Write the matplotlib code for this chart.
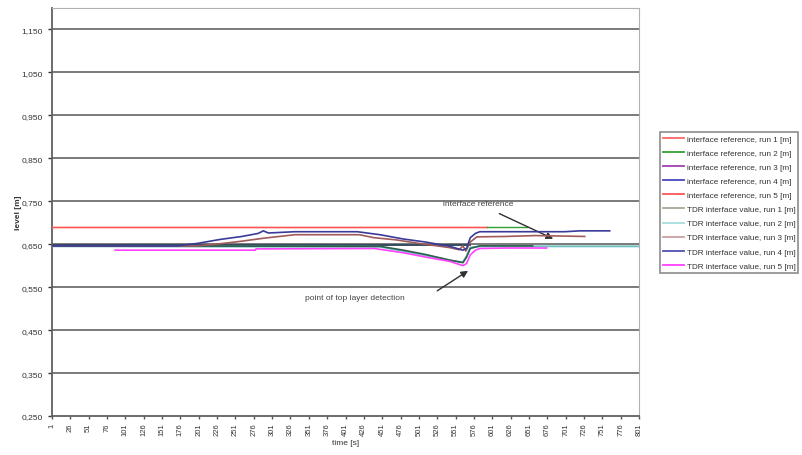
import matplotlib
matplotlib.use("Agg")
import matplotlib.pyplot as plt
from matplotlib.lines import Line2D
from matplotlib.ticker import FuncFormatter

plt.rcParams['font.family'] = ['Liberation Sans', 'DejaVu Sans']

# ---- data ----
# interface reference levels (flat lines)
ref1_t = [1, 594]
ref1_v = [0.690, 0.690]
ref2_t = [594, 648]
ref2_v = [0.690, 0.690]
ref3_t = [1, 571]
ref3_v = [0.647, 0.647]
ref4_t = [1, 571]
ref4_v = [0.647, 0.647]
ref5_t = [1, 594]
ref5_v = [0.690, 0.690]

# TDR measured interface values
tdr1_t = [1, 448, 480, 510, 543, 561, 566, 571, 584, 656]
tdr1_v = [0.646, 0.645, 0.636, 0.626, 0.613, 0.607, 0.620, 0.640, 0.646, 0.646]

tdr2_t = [1, 448, 480, 510, 543, 561, 566, 571, 584, 801]
tdr2_v = [0.645, 0.644, 0.634, 0.624, 0.612, 0.608, 0.622, 0.642, 0.645, 0.645]

tdr3_t = [1, 200, 230, 260, 290, 332, 420, 440, 470, 500, 543, 556, 561, 565,
          571, 580, 620, 660, 727]
tdr3_v = [0.646, 0.646, 0.651, 0.657, 0.664, 0.672, 0.672, 0.665, 0.660, 0.652,
          0.642, 0.637, 0.646, 0.634, 0.655, 0.667, 0.668, 0.670, 0.668]

tdr4_t = [1, 171, 200, 230, 260, 282, 289, 296, 332, 417, 448, 480, 510, 543,
          561, 566, 571, 578, 584, 700, 720, 761]
tdr4_v = [0.646, 0.646, 0.652, 0.661, 0.668, 0.675, 0.681, 0.676, 0.679, 0.679,
          0.672, 0.662, 0.655, 0.645, 0.636, 0.640, 0.665, 0.675, 0.679, 0.679,
          0.681, 0.681]

tdr5_t = [87, 278, 279, 440, 448, 480, 510, 543, 561, 566, 571, 578, 584, 620, 675]
tdr5_v = [0.636, 0.636, 0.639, 0.640, 0.638, 0.630, 0.620, 0.610, 0.600, 0.605,
          0.625, 0.636, 0.640, 0.641, 0.641]

labels = ['interface reference, run 1 [m]', 'interface reference, run 2 [m]',
          'interface reference, run 3 [m]', 'interface reference, run 4 [m]',
          'interface reference, run 5 [m]', 'TDR interface value, run 1 [m]',
          'TDR interface value, run 2 [m]', 'TDR interface value, run 3 [m]',
          'TDR interface value, run 4 [m]', 'TDR interface value, run 5 [m]']
legend_colors = ['#ff6666', '#33a033', '#a040b0', '#4848c0', '#ff5555',
                 '#a8a898', '#a8dcdc', '#c8a0a0', '#5050b0', '#ff40ff']

x_ticks = list(range(1, 802, 25))
y_ticks = [0.25, 0.35, 0.45, 0.55, 0.65, 0.75, 0.85, 0.95, 1.05, 1.15]

fig = plt.figure(figsize=(8.02, 4.56), dpi=100)
ax = fig.add_axes([0.0648, 0.0855, 0.7320, 0.8950])

# grid first
for yv in y_ticks[1:]:
    ax.axhline(yv, color='#707070', lw=1.3, zorder=1)

ax.plot(ref3_t, ref3_v, color='#4a3a6a', lw=1.2, zorder=2)
ax.plot(ref4_t, ref4_v, color='#2f4f5f', lw=1.2, zorder=2)
ax.plot(ref1_t, ref1_v, color='#ff6666', lw=1.0, zorder=3)
ax.plot(ref5_t, ref5_v, color='#ff5555', lw=1.0, zorder=3)
ax.plot(ref2_t, ref2_v, color='#33a033', lw=1.0, zorder=3)
ax.plot(tdr2_t, tdr2_v, color='#70c0c0', lw=1.4, zorder=4)
ax.plot(tdr1_t, tdr1_v, color='#2e5e4e', lw=1.2, zorder=4)
ax.plot(tdr3_t, tdr3_v, color='#a05a5a', lw=1.2, zorder=5)
ax.plot(tdr4_t, tdr4_v, color='#3a3a9a', lw=1.2, zorder=6)
ax.plot(tdr5_t, tdr5_v, color='#ff40ff', lw=1.2, zorder=6)

ax.set_xlim(1, 801)
ax.set_ylim(0.25, 1.20)
ax.set_xticks(x_ticks)
ax.set_xticklabels([str(t) for t in x_ticks], rotation=90, fontsize=5.5,
                   color='#333333')
ax.set_yticks(y_ticks)
ax.yaxis.set_major_formatter(FuncFormatter(lambda v, p: f'{v:.3f}'.replace('.', ',')))
ax.tick_params(axis='y', labelsize=6, colors='#333333', length=3, width=1, direction='out')
ax.tick_params(axis='x', length=2.5, width=1, direction='out', pad=2, colors='#555555')
for lab in ax.get_xticklabels() + ax.get_yticklabels():
    lab.set_color('#333333')

ax.spines['left'].set_color('#606060')
ax.spines['left'].set_linewidth(1.3)
ax.spines['bottom'].set_color('#606060')
ax.spines['bottom'].set_linewidth(1.3)
ax.spines['top'].set_color('#b0b0b0')
ax.spines['right'].set_color('#b0b0b0')

ax.set_xlabel('time [s]', fontsize=6, color='#333333', labelpad=3)
ax.set_ylabel('level [m]', fontsize=6, color='#333333', fontweight='bold', labelpad=0)

# annotations
ax.annotate('interface reference', xy=(684, 0.6626), xytext=(582, 0.744),
            fontsize=6, color='#444444', ha='center', va='center',
            arrowprops=dict(arrowstyle='-|>', color='#303030', lw=1.0,
                            mutation_scale=10, shrinkA=6, shrinkB=0))
ax.text(414, 0.525, 'point of top layer detection',
        fontsize=6, color='#444444', ha='center', va='center')
ax.annotate('', xy=(568, 0.588), xytext=(526, 0.5414),
            arrowprops=dict(arrowstyle='-|>', color='#303030', lw=1.0,
                            mutation_scale=10, shrinkA=0, shrinkB=0))

handles = [Line2D([0], [0], color=c, lw=1.3) for c in legend_colors]
leg = fig.legend(handles, labels, loc='upper left', bbox_to_anchor=(660 / 802, 1 - 133 / 456),
                 fontsize=5.9, frameon=True, fancybox=False, borderpad=0.35,
                 handlelength=2.6, handletextpad=0.3, labelspacing=0.78,
                 borderaxespad=0)
leg.get_frame().set_edgecolor('#707070')
leg.get_frame().set_linewidth(1.2)
for t in leg.get_texts():
    t.set_color('#333333')

fig.savefig('out.png', dpi=100)
